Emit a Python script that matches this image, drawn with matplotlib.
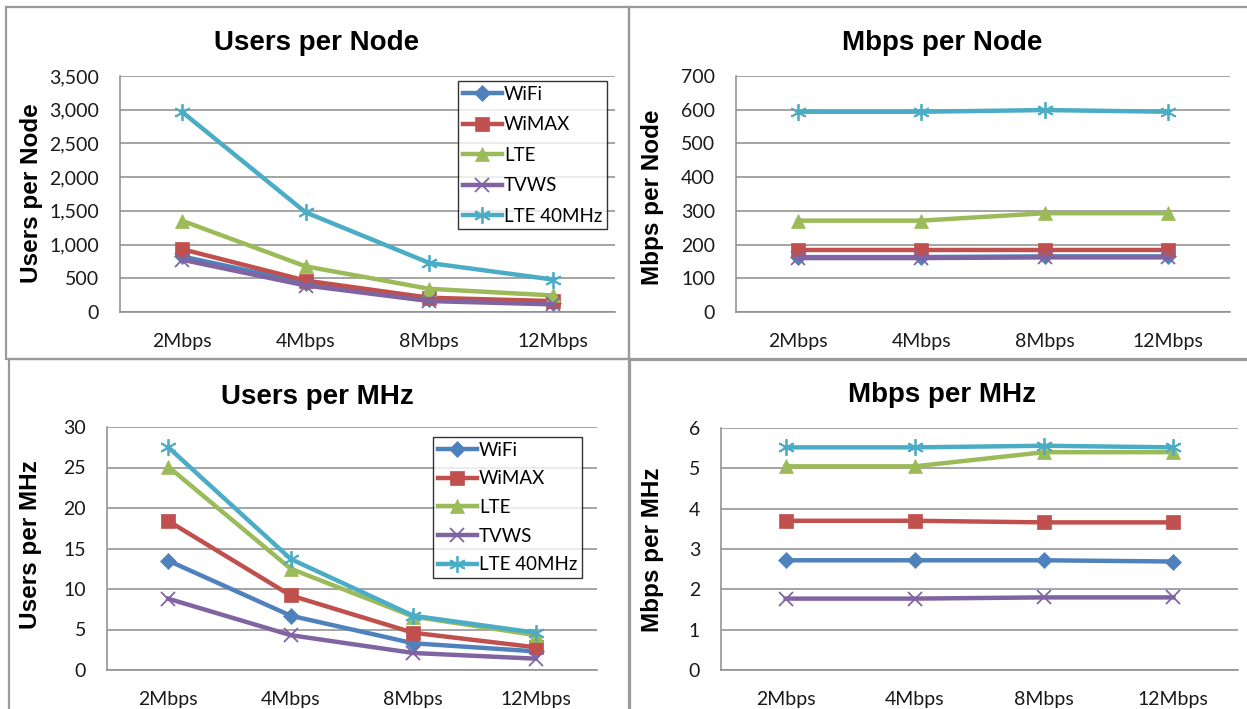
import matplotlib
matplotlib.use("Agg")
import matplotlib.pyplot as plt
from matplotlib.patches import Rectangle
from matplotlib.ticker import FuncFormatter

plt.rcParams['font.family'] = ['Lato', 'DejaVu Sans']

# data
rates = ["2Mbps", "4Mbps", "8Mbps", "12Mbps"]
techs = ["WiFi", "WiMAX", "LTE", "TVWS", "LTE 40MHz"]

users_node_wifi = [825, 432, 196, 137]
users_node_wimax = [933, 466, 211, 162]
users_node_lte = [1355, 677, 344, 245]
users_node_tvws = [776, 393, 162, 113]
users_node_lte40 = [2970, 1478, 727, 481]

mbps_node_wifi = [163, 163, 165, 165]
mbps_node_wimax = [185, 185, 185, 185]
mbps_node_lte = [271, 271, 293, 293]
mbps_node_tvws = [160, 160, 162, 162]
mbps_node_lte40 = [594, 594, 599, 594]

users_mhz_wifi = [13.5, 6.7, 3.3, 2.3]
users_mhz_wimax = [18.4, 9.2, 4.6, 2.8]
users_mhz_lte = [25.1, 12.5, 6.6, 4.3]
users_mhz_tvws = [8.8, 4.3, 2.1, 1.4]
users_mhz_lte40 = [27.5, 13.7, 6.7, 4.6]

mbps_mhz_wifi = [2.72, 2.72, 2.72, 2.69]
mbps_mhz_wimax = [3.70, 3.70, 3.66, 3.66]
mbps_mhz_lte = [5.05, 5.05, 5.40, 5.40]
mbps_mhz_tvws = [1.77, 1.77, 1.80, 1.80]
mbps_mhz_lte40 = [5.52, 5.52, 5.56, 5.52]

colors = ["#4F81BD", "#C0504D", "#9BBB59", "#8064A2", "#4BACC6"]
markers = ["D", "s", "^", "x", (6, 2, 0)]
msizes = [8, 9.5, 10, 10, 12]

W, H = 1247, 709
fig = plt.figure(figsize=(W / 100, H / 100), dpi=100)


def px_axes(x0, y0, x1, y1):
    return fig.add_axes([x0 / W, 1 - y1 / H, (x1 - x0) / W, (y1 - y0) / H])


def panel_border(x0, y0, x1, y1):
    fig.patches.append(Rectangle((x0 / W, 1 - y1 / H), (x1 - x0) / W, (y1 - y0) / H,
                                 transform=fig.transFigure, fill=False,
                                 edgecolor="#9a9a9a", linewidth=1.6, zorder=0))


def px_text(x, y, s, size, rot=0):
    fig.text(x / W, 1 - y / H, s, fontsize=size, rotation=rot, ha="center", va="center",
             family=['Liberation Sans', 'DejaVu Sans'], fontweight="bold")


panel_border(6, 7, 629, 359)
panel_border(629, 7, 1252, 359)
panel_border(9, 359, 629, 715)
panel_border(630, 360, 1252, 715)


def draw(ax, series, ymax, ystep, fmt, legend=None, spacing=0.7):
    for vals, c, m, ms in zip(series, colors, markers, msizes):
        ax.plot(range(len(rates)), vals, color=c, marker=m, markersize=ms,
                linewidth=3.2, markeredgewidth=1.3 if m in ("x", (6, 2, 0)) else 0.5,
                markeredgecolor=c, solid_joinstyle="round")
    ax.set_xlim(-0.5, len(rates) - 0.5)
    ax.set_ylim(0, ymax)
    ax.set_yticks([i * ystep for i in range(int(round(ymax / ystep)) + 1)])
    ax.yaxis.set_major_formatter(FuncFormatter(fmt))
    ax.set_xticks(range(len(rates)))
    ax.set_xticklabels(rates)
    ax.grid(axis="y", color="#8c8c8c", linewidth=1.1)
    ax.set_axisbelow(True)
    for s in ("top", "right"):
        ax.spines[s].set_visible(False)
    for s in ("left", "bottom"):
        ax.spines[s].set_color("#8c8c8c")
        ax.spines[s].set_linewidth(1.1)
    ax.tick_params(length=0, labelsize=14, colors="#1a1a1a", pad=15)
    ax.tick_params(axis="x", pad=15)
    if legend is not None:
        leg = ax.legend(techs, loc="upper left", bbox_to_anchor=legend, fontsize=13.5,
                        frameon=True, fancybox=False, handlelength=2.1,
                        handletextpad=0.1, labelspacing=spacing, borderpad=0.25,
                        borderaxespad=0)
        leg.get_frame().set_edgecolor("black")
        leg.get_frame().set_linewidth(1.0)


thousands = lambda v, p: f"{int(v):,}"
plain = lambda v, p: f"{int(v)}"

ax1 = px_axes(120, 76, 615, 312)
draw(ax1, [users_node_wifi, users_node_wimax, users_node_lte, users_node_tvws, users_node_lte40],
     3500, 500, thousands, legend=(0.683, 0.979), spacing=0.72)
px_text(317, 43, "Users per Node", 20)
px_text(32, 193, "Users per Node", 17.5, 90)

ax2 = px_axes(736, 76, 1230, 312)
draw(ax2, [mbps_node_wifi, mbps_node_wimax, mbps_node_lte, mbps_node_tvws, mbps_node_lte40],
     700, 100, plain)
px_text(942, 43, "Mbps per Node", 20)
px_text(652, 197, "Mbps per Node", 17.5, 90)

ax3 = px_axes(107, 427, 597, 670)
draw(ax3, [users_mhz_wifi, users_mhz_wimax, users_mhz_lte, users_mhz_tvws, users_mhz_lte40],
     30, 5, plain, legend=(0.665, 0.959), spacing=0.62)
px_text(317, 397, "Users per MHz", 20)
px_text(31, 545, "Users per MHz", 17.5, 90)

ax4 = px_axes(721, 428, 1238, 670)
draw(ax4, [mbps_mhz_wifi, mbps_mhz_wimax, mbps_mhz_lte, mbps_mhz_tvws, mbps_mhz_lte40],
     6, 1, plain)
px_text(942, 395, "Mbps per MHz", 20)
px_text(653, 550, "Mbps per MHz", 17.5, 90)

fig.savefig("out.png", dpi=100)
